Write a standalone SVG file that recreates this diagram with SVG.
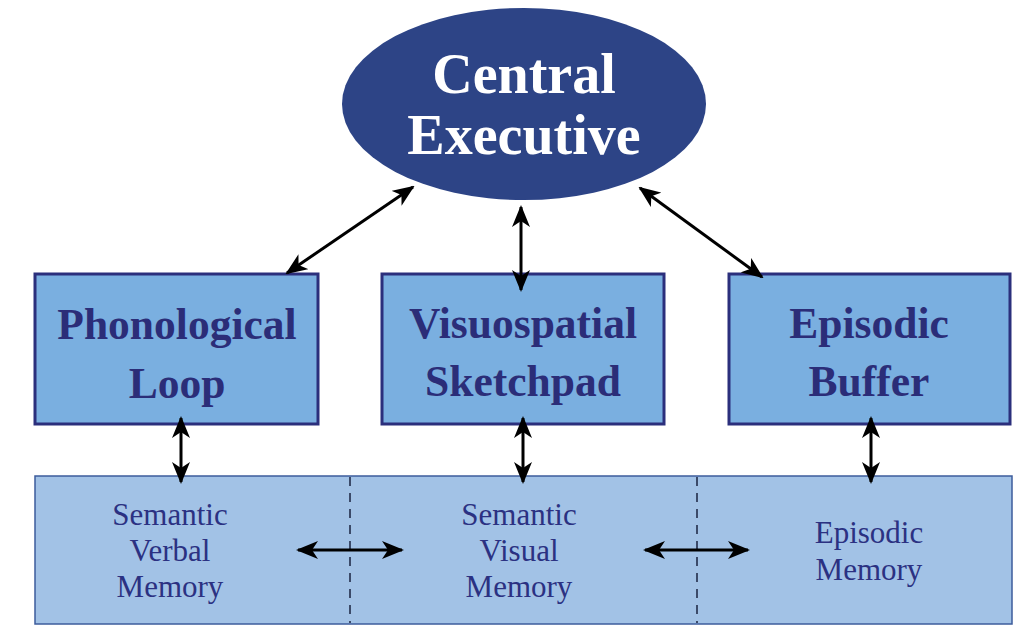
<svg xmlns="http://www.w3.org/2000/svg" width="1036" height="644" viewBox="0 0 1036 644">
<style>
.box{fill:#7aafe0;stroke:#2b2f7c;stroke-width:3}
.bt{font-family:"Liberation Serif",serif;font-weight:bold;font-size:43.5px;fill:#2b2d78;text-anchor:middle}
.mt{font-family:"Liberation Serif",serif;font-size:31px;fill:#2b3182;text-anchor:middle}
.ct{font-family:"Liberation Serif",serif;font-weight:bold;font-size:56px;fill:#ffffff;text-anchor:middle}
.con{stroke:#000;stroke-width:3;fill:none;marker-start:url(#ah);marker-end:url(#ah)}
</style>
<defs>
<marker id="ah" viewBox="0 0 22 18" refX="20" refY="9" markerWidth="22" markerHeight="18" markerUnits="userSpaceOnUse" orient="auto-start-reverse">
<path d="M0,0 L22,9 L0,18 L6,9 z" fill="#000"/>
</marker>
</defs>
<rect width="1036" height="644" fill="#ffffff"/>
<g id="memory">
<rect x="35" y="476" width="977" height="148" fill="#a2c2e6" stroke="#3d5c9c" stroke-width="1.5"/>
<line x1="350" y1="477" x2="350" y2="623" stroke="#1a2340" stroke-width="1.5" stroke-dasharray="9,7"/>
<line x1="697" y1="477" x2="697" y2="623" stroke="#1a2340" stroke-width="1.5" stroke-dasharray="9,7"/>
</g>
<g id="semantic-verbal">
<text class="mt" x="170" y="525">Semantic</text>
<text class="mt" x="170" y="561">Verbal</text>
<text class="mt" x="170" y="597">Memory</text>
</g>
<g id="semantic-visual">
<text class="mt" x="519" y="525">Semantic</text>
<text class="mt" x="519" y="561">Visual</text>
<text class="mt" x="519" y="597">Memory</text>
</g>
<g id="episodic-memory">
<text class="mt" x="869" y="543">Episodic</text>
<text class="mt" x="869" y="580">Memory</text>
</g>
<g id="central-executive">
<ellipse cx="524" cy="104" rx="182" ry="96" fill="#2d4486"/>
<text class="ct" x="524" y="93">Central</text>
<text class="ct" x="524" y="154">Executive</text>
</g>
<g id="phonological-loop">
<rect class="box" x="35" y="274" width="283" height="150"/>
<text class="bt" x="177" y="339">Phonological</text>
<text class="bt" x="177" y="398">Loop</text>
</g>
<g id="visuospatial-sketchpad">
<rect class="box" x="382" y="274" width="282" height="150"/>
<text class="bt" x="523" y="338">Visuospatial</text>
<text class="bt" x="523" y="396">Sketchpad</text>
</g>
<g id="episodic-buffer">
<rect class="box" x="729" y="274" width="281" height="150"/>
<text class="bt" x="869" y="338">Episodic</text>
<text class="bt" x="869" y="396">Buffer</text>
</g>
<g id="connectors">
<line class="con" x1="287" y1="273" x2="413" y2="187"/>
<line class="con" x1="521" y1="207" x2="521" y2="290"/>
<line class="con" x1="640" y1="188" x2="762" y2="277"/>
<line class="con" x1="181" y1="418" x2="181" y2="482"/>
<line class="con" x1="523" y1="418" x2="523" y2="482"/>
<line class="con" x1="871" y1="418" x2="871" y2="482"/>
<line class="con" x1="298" y1="550" x2="402" y2="550"/>
<line class="con" x1="645" y1="550" x2="748" y2="550"/>
</g>
</svg>
